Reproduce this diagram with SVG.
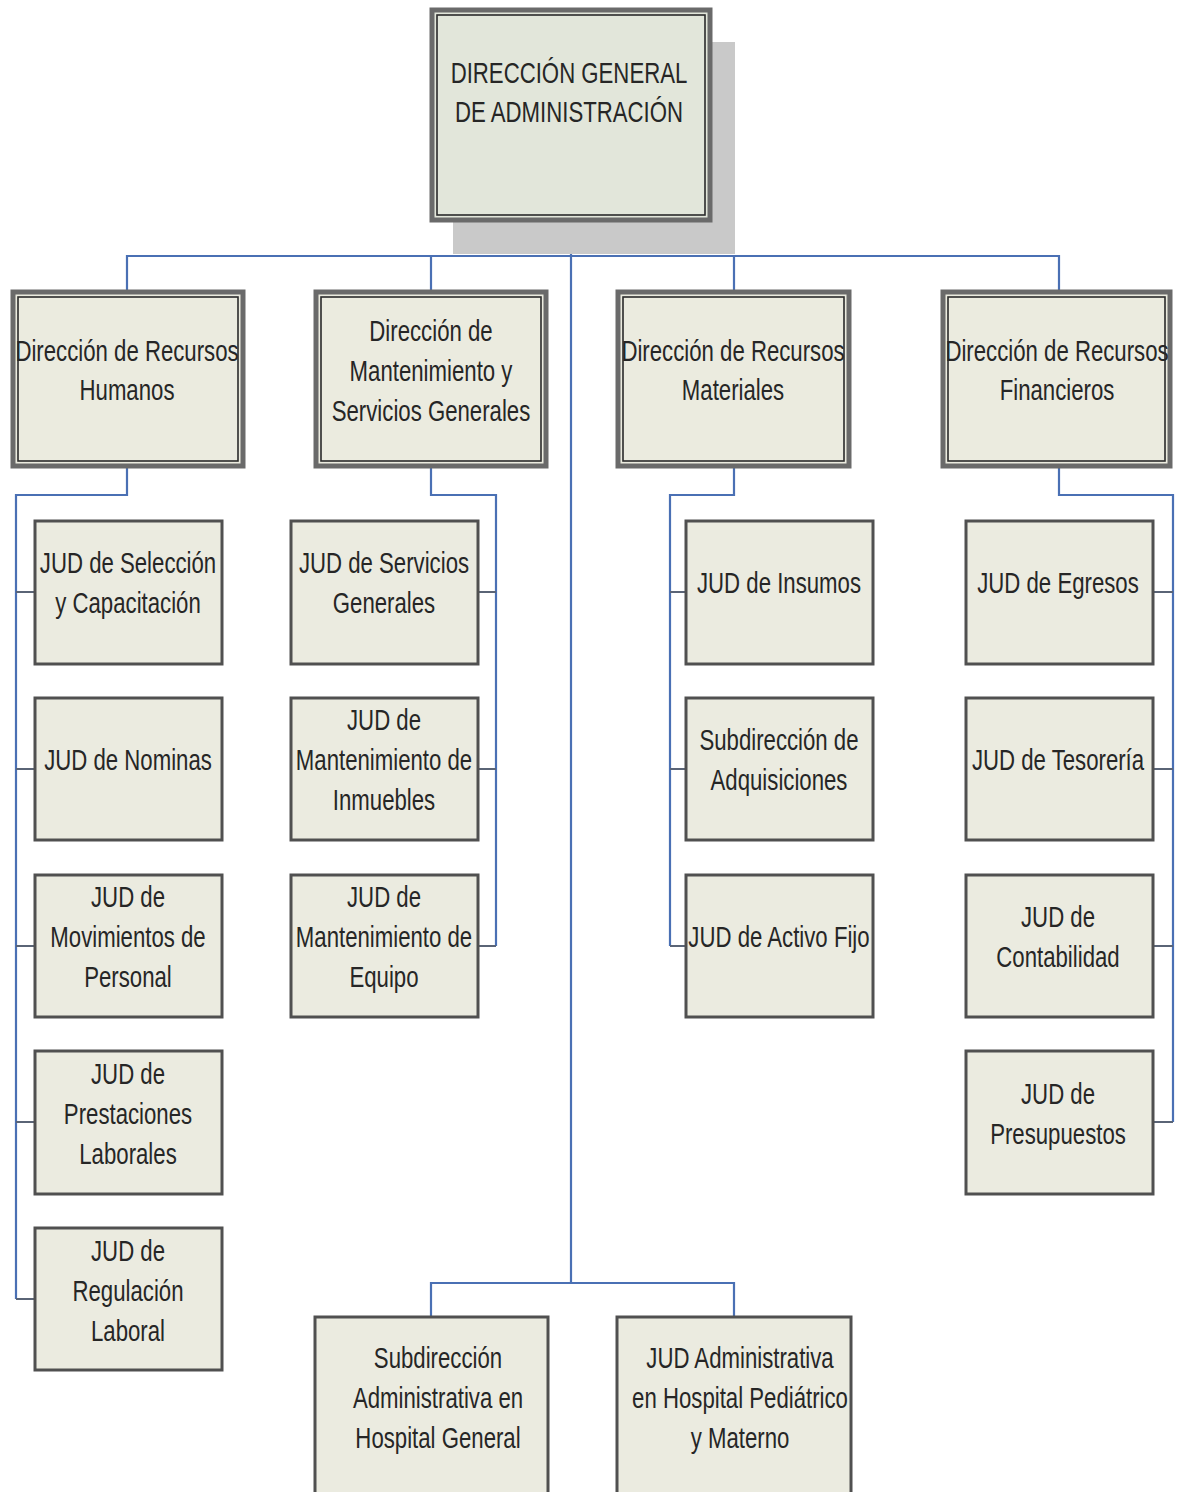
<svg xmlns="http://www.w3.org/2000/svg" width="1178" height="1492" viewBox="0 0 1178 1492">
<style>
.t{font-family:"Liberation Sans",Arial,sans-serif;font-size:30px;fill:#262626;text-anchor:middle}
.jud{fill:#ebebe0;stroke:#505050;stroke-width:3}
.dirO{fill:#ebebdf;stroke:#6a6a6a;stroke-width:5}
.dirI{fill:none;stroke:#2a2a2a;stroke-width:1.6}
.c{fill:none;stroke:#4a70b4;stroke-width:2.2}
.s{fill:none;stroke:#5a6476;stroke-width:2}
</style>
<rect width="1178" height="1492" fill="#ffffff"/>
<g id="connectors">
<path class="c" d="M571 222V1283M127 292V256H1059V292M431 256V292M734 256V292"/>
<path class="c" d="M127 468V495H16V1299M431 468V495H496V946M734 468V495H670V946M1059 468V495H1173V1122"/>
<path class="c" d="M431 1317V1283H734V1317"/>
<path class="s" d="M16 592H35M16 769H35M16 946H35M16 1122H35M16 1299H35"/>
<path class="s" d="M478 592H496M478 769H496M478 946H496"/>
<path class="s" d="M670 592H686M670 769H686M670 946H686"/>
<path class="s" d="M1153 592H1173M1153 769H1173M1153 946H1173M1153 1122H1173"/>
</g>
<g id="dga">
<rect x="453" y="42" width="282" height="212" fill="#c9c9c9"/>
<rect x="432" y="10" width="278" height="210" fill="#e2e6da" stroke="#6a6a6a" stroke-width="5"/>
<rect x="437" y="15" width="268" height="200" fill="none" stroke="#2a2a2a" stroke-width="1.6"/>
<text class="t" transform="translate(569 0) scale(0.74 1)"><tspan x="0" y="83">DIRECCIÓN GENERAL</tspan><tspan x="0" y="122">DE ADMINISTRACIÓN</tspan></text>
</g>
<g id="drh">
<rect class="dirO" x="13" y="292" width="230" height="174"/>
<rect class="dirI" x="18" y="297" width="220" height="164"/>
<text class="t" transform="translate(127 0) scale(0.74 1)"><tspan x="0" y="361">Dirección de Recursos</tspan><tspan x="0" y="400">Humanos</tspan></text>
</g>
<g id="dmsg">
<rect class="dirO" x="316" y="292" width="230" height="174"/>
<rect class="dirI" x="321" y="297" width="220" height="164"/>
<text class="t" transform="translate(431 0) scale(0.74 1)"><tspan x="0" y="341">Dirección de</tspan><tspan x="0" y="381">Mantenimiento y</tspan><tspan x="0" y="421">Servicios Generales</tspan></text>
</g>
<g id="drm">
<rect class="dirO" x="618" y="292" width="231" height="174"/>
<rect class="dirI" x="623" y="297" width="221" height="164"/>
<text class="t" transform="translate(733 0) scale(0.74 1)"><tspan x="0" y="361">Dirección de Recursos</tspan><tspan x="0" y="400">Materiales</tspan></text>
</g>
<g id="drf">
<rect class="dirO" x="943" y="292" width="227" height="174"/>
<rect class="dirI" x="948" y="297" width="217" height="164"/>
<text class="t" transform="translate(1057 0) scale(0.74 1)"><tspan x="0" y="361">Dirección de Recursos</tspan><tspan x="0" y="400">Financieros</tspan></text>
</g>
<g id="rh1"><rect class="jud" x="35" y="521" width="187" height="143"/><text class="t" transform="translate(128 0) scale(0.74 1)"><tspan x="0" y="573">JUD de Selección</tspan><tspan x="0" y="613">y Capacitación</tspan></text></g>
<g id="rh2"><rect class="jud" x="35" y="698" width="187" height="142"/><text class="t" transform="translate(128 0) scale(0.74 1)"><tspan x="0" y="770">JUD de Nominas</tspan></text></g>
<g id="rh3"><rect class="jud" x="35" y="875" width="187" height="142"/><text class="t" transform="translate(128 0) scale(0.74 1)"><tspan x="0" y="907">JUD de</tspan><tspan x="0" y="947">Movimientos de</tspan><tspan x="0" y="987">Personal</tspan></text></g>
<g id="rh4"><rect class="jud" x="35" y="1051" width="187" height="143"/><text class="t" transform="translate(128 0) scale(0.74 1)"><tspan x="0" y="1084">JUD de</tspan><tspan x="0" y="1124">Prestaciones</tspan><tspan x="0" y="1164">Laborales</tspan></text></g>
<g id="rh5"><rect class="jud" x="35" y="1228" width="187" height="142"/><text class="t" transform="translate(128 0) scale(0.74 1)"><tspan x="0" y="1261">JUD de</tspan><tspan x="0" y="1301">Regulación</tspan><tspan x="0" y="1341">Laboral</tspan></text></g>
<g id="ms1"><rect class="jud" x="291" y="521" width="187" height="143"/><text class="t" transform="translate(384 0) scale(0.74 1)"><tspan x="0" y="573">JUD de Servicios</tspan><tspan x="0" y="613">Generales</tspan></text></g>
<g id="ms2"><rect class="jud" x="291" y="698" width="187" height="142"/><text class="t" transform="translate(384 0) scale(0.74 1)"><tspan x="0" y="730">JUD de</tspan><tspan x="0" y="770">Mantenimiento de</tspan><tspan x="0" y="810">Inmuebles</tspan></text></g>
<g id="ms3"><rect class="jud" x="291" y="875" width="187" height="142"/><text class="t" transform="translate(384 0) scale(0.74 1)"><tspan x="0" y="907">JUD de</tspan><tspan x="0" y="947">Mantenimiento de</tspan><tspan x="0" y="987">Equipo</tspan></text></g>
<g id="rm1"><rect class="jud" x="686" y="521" width="187" height="143"/><text class="t" transform="translate(779 0) scale(0.74 1)"><tspan x="0" y="593">JUD de Insumos</tspan></text></g>
<g id="rm2"><rect class="jud" x="686" y="698" width="187" height="142"/><text class="t" transform="translate(779 0) scale(0.74 1)"><tspan x="0" y="750">Subdirección de</tspan><tspan x="0" y="790">Adquisiciones</tspan></text></g>
<g id="rm3"><rect class="jud" x="686" y="875" width="187" height="142"/><text class="t" transform="translate(779 0) scale(0.74 1)"><tspan x="0" y="947">JUD de Activo Fijo</tspan></text></g>
<g id="rf1"><rect class="jud" x="966" y="521" width="187" height="143"/><text class="t" transform="translate(1058 0) scale(0.74 1)"><tspan x="0" y="593">JUD de Egresos</tspan></text></g>
<g id="rf2"><rect class="jud" x="966" y="698" width="187" height="142"/><text class="t" transform="translate(1058 0) scale(0.74 1)"><tspan x="0" y="770">JUD de Tesorería</tspan></text></g>
<g id="rf3"><rect class="jud" x="966" y="875" width="187" height="142"/><text class="t" transform="translate(1058 0) scale(0.74 1)"><tspan x="0" y="927">JUD de</tspan><tspan x="0" y="967">Contabilidad</tspan></text></g>
<g id="rf4"><rect class="jud" x="966" y="1051" width="187" height="143"/><text class="t" transform="translate(1058 0) scale(0.74 1)"><tspan x="0" y="1104">JUD de</tspan><tspan x="0" y="1144">Presupuestos</tspan></text></g>
<g id="hg"><rect class="jud" x="315" y="1317" width="233" height="190"/><text class="t" transform="translate(438 0) scale(0.74 1)"><tspan x="0" y="1368">Subdirección</tspan><tspan x="0" y="1408">Administrativa en</tspan><tspan x="0" y="1448">Hospital General</tspan></text></g>
<g id="hp"><rect class="jud" x="617" y="1317" width="234" height="190"/><text class="t" transform="translate(740 0) scale(0.74 1)"><tspan x="0" y="1368">JUD Administrativa</tspan><tspan x="0" y="1408">en Hospital Pediátrico</tspan><tspan x="0" y="1448">y Materno</tspan></text></g>
</svg>
